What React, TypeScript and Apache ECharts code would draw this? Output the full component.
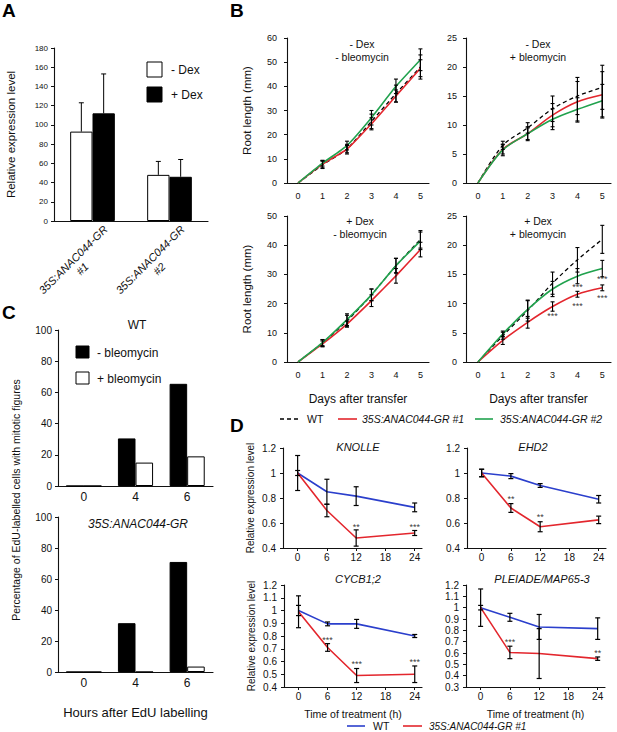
import React, { useEffect, useRef } from 'react';
import * as echarts from 'echarts';

const FONT = '"Liberation Sans", Arial, Helvetica, sans-serif';
const INK = '#111';
const RED = '#e3262d';
const GREEN = '#21a24e';
const BLUE = '#2b3fcc';

// ---------- Panel A ----------
const A_CATEGORIES = ['35S:ANAC044-GR\n#1', '35S:ANAC044-GR\n#2'];
const A_MINUS_DEX = [93, 48];
const A_MINUS_DEX_ERR = [30, 14];
const A_PLUS_DEX = [112, 46];
const A_PLUS_DEX_ERR = [41, 18];

// ---------- Panel B ----------
const B_DAYS = [0, 1, 2, 3, 4, 5];
// - Dex / - bleomycin
const B1_WT = [0, 7.5, 14, 25.5, 37, 48];
const B1_WT_ERR = [0, 1.5, 2, 3, 3.5, 5];
const B1_L1 = [0, 7.8, 14, 24.5, 36, 47.5];
const B1_L1_ERR = [0, 1.5, 1.5, 2.5, 2.5, 3.5];
const B1_L2 = [0, 8.2, 15.5, 27, 40, 51];
const B1_L2_ERR = [0, 1.2, 1.8, 3, 3, 4.5];
// - Dex / + bleomycin
const B2_WT = [0, 6.5, 9.5, 12.8, 15, 16.5];
const B2_WT_ERR = [0, 0.7, 0.9, 2.2, 3.2, 3.8];
const B2_L1 = [0, 5.8, 8.5, 11.7, 14, 15.2];
const B2_L1_ERR = [0, 0.8, 1.0, 2.0, 3.5, 4.0];
const B2_L2 = [0, 5.7, 8.5, 11, 12.7, 14.2];
const B2_L2_ERR = [0, 1.0, 1.2, 1.8, 2.0, 2.8];
// + Dex / - bleomycin
const B3_WT = [0, 6.5, 14, 23, 33, 42];
const B3_WT_ERR = [0, 1.2, 2, 2, 2.5, 3];
const B3_L1 = [0, 6.2, 13, 21, 29.5, 38.5];
const B3_L1_ERR = [0, 1, 1, 2, 2.5, 2.5];
const B3_L2 = [0, 6.6, 14.5, 23, 33, 41.5];
const B3_L2_ERR = [0, 1, 2, 2, 2.5, 3];
// + Dex / + bleomycin
const B4_WT = [0, 4.5, 8.8, 13.5, 17.5, 21];
const B4_WT_ERR = [0, 0.6, 1.8, 1.9, 2.1, 2.4];
const B4_L1 = [0, 3.7, 6.8, 9.5, 11.6, 12.7];
const B4_L1_ERR = [0, 0.7, 1.0, 0.8, 0.5, 0.5];
const B4_L2 = [0, 4.8, 9, 12.5, 14.7, 16];
const B4_L2_ERR = [0, 0.5, 1.5, 1.3, 1.3, 1.4];
const B4_STARS: [number, number, string][] = [[3, 7.8, '***'], [4, 12.9, '***'], [4, 9.6, '***'], [5, 14.2, '***'], [5, 11, '***']];

// ---------- Panel C ----------
const C_HOURS = ['0', '4', '6'];
const C_WT_MINUS_BLEO = [0, 30.5, 65.5];
const C_WT_PLUS_BLEO = [0, 15, 19];
const C_GR_MINUS_BLEO = [0, 31.5, 71];
const C_GR_PLUS_BLEO = [0, 0, 3.5];

// ---------- Panel D ----------
const D_HOURS = [0, 6, 12, 24];
const D_TICKS = [0, 6, 12, 18, 24];
const KNOLLE_WT = [1.0, 0.85, 0.815, 0.725];
const KNOLLE_WT_ERR = [0.14, 0.1, 0.075, 0.035];
const KNOLLE_GR = [1.0, 0.7, 0.48, 0.52];
const KNOLLE_GR_ERR = [0.02, 0.05, 0.065, 0.02];
const KNOLLE_STARS: [number, number, string][] = [[12, 0.565, '**'], [24, 0.57, '***']];
const EHD2_WT = [1.0, 0.975, 0.9, 0.79];
const EHD2_WT_ERR = [0.03, 0.02, 0.015, 0.03];
const EHD2_GR = [1.0, 0.72, 0.57, 0.625];
const EHD2_GR_ERR = [0.03, 0.035, 0.04, 0.03];
const EHD2_STARS: [number, number, string][] = [[6, 0.79, '**'], [12, 0.65, '**']];
const CYCB_WT = [1.0, 0.895, 0.895, 0.8];
const CYCB_WT_ERR = [0.04, 0.015, 0.035, 0.012];
const CYCB_GR = [0.99, 0.71, 0.49, 0.5];
const CYCB_GR_ERR = [0.125, 0.03, 0.055, 0.065];
const CYCB_STARS: [number, number, string][] = [[6, 0.77, '***'], [12, 0.58, '***'], [24, 0.6, '***']];
const PLE_WT = [1.0, 0.915, 0.83, 0.815];
const PLE_WT_ERR = [0.165, 0.035, 0.11, 0.095];
const PLE_GR = [1.0, 0.605, 0.595, 0.55];
const PLE_GR_ERR = [0.02, 0.055, 0.22, 0.015];
const PLE_STARS: [number, number, string][] = [[6, 0.7, '***'], [24, 0.6, '**']];

// ---------- helpers ----------
const pts = (xs: number[], ys: number[]) => xs.map((x, i) => [x, ys[i]]);

function errBars(gi: number, xs: number[], ys: number[], errs: number[], opt: { cap: number; upper?: boolean; offset?: number; lw?: number }) {
  return {
    type: 'custom',
    xAxisIndex: gi,
    yAxisIndex: gi,
    z: 6,
    silent: true,
    data: xs.map((x, i) => [x, ys[i], errs[i]]),
    renderItem: (_p: any, api: any) => {
      const x = api.value(0);
      const y = api.value(1);
      const e = api.value(2);
      if (!e) return null;
      const p0 = api.coord([x, y]);
      const off = opt.offset ? api.size([1, 0])[0] * opt.offset : 0;
      const top = api.coord([x, y + e]);
      const bot = opt.upper ? p0 : api.coord([x, y - e]);
      const cx = p0[0] + off;
      const st = { stroke: '#000', lineWidth: opt.lw ?? 1 };
      const hw = opt.cap;
      const children: any[] = [
        { type: 'line', shape: { x1: cx, y1: top[1], x2: cx, y2: bot[1] }, style: st },
        { type: 'line', shape: { x1: cx - hw, y1: top[1], x2: cx + hw, y2: top[1] }, style: st },
      ];
      if (!opt.upper) children.push({ type: 'line', shape: { x1: cx - hw, y1: bot[1], x2: cx + hw, y2: bot[1] }, style: st });
      return { type: 'group', children };
    },
  };
}

function stars(gi: number, list: [number, number, string][], fontSize: number) {
  return {
    type: 'scatter',
    xAxisIndex: gi,
    yAxisIndex: gi,
    silent: true,
    z: 7,
    symbolSize: 1,
    itemStyle: { color: 'rgba(0,0,0,0)' },
    data: list.map((s) => ({ name: s[2], value: [s[0], s[1]] })),
    label: { show: true, position: 'inside', formatter: '{b}', fontSize, fontFamily: FONT, color: '#000' },
  };
}

function lineSeries(gi: number, name: string, xs: number[], ys: number[], color: string, dashed = false, smooth: number | boolean = false) {
  return {
    type: 'line',
    name,
    xAxisIndex: gi,
    yAxisIndex: gi,
    data: pts(xs, ys),
    symbol: 'none',
    smooth,
    z: dashed ? 3 : 4,
    lineStyle: { color, width: dashed ? 1.3 : 1.6, type: dashed ? [4, 3] : 'solid' },
  };
}

function yAx(gi: number, min: number, max: number, interval: number, fontSize: number, margin: number, extra: any = {}) {
  return {
    type: 'value',
    gridIndex: gi,
    min,
    max,
    interval,
    axisLine: { show: true, onZero: false, lineStyle: { color: INK, width: 1.1 } },
    axisTick: { show: true, length: 3, lineStyle: { color: INK } },
    axisLabel: { fontSize, fontFamily: FONT, color: INK, margin },
    splitLine: { show: false },
    nameTextStyle: { fontFamily: FONT, color: INK },
    ...extra,
  };
}

function bX(gi: number, min: number, extra: any = {}) {
  return {
    type: 'value',
    gridIndex: gi,
    min,
    max: 5.35,
    axisLine: { show: true, onZero: false, lineStyle: { color: INK, width: 1.1 } },
    axisTick: { show: false },
    axisLabel: { customValues: B_DAYS, fontSize: 9, fontFamily: FONT, color: INK, margin: 8 },
    splitLine: { show: false },
    nameTextStyle: { fontFamily: FONT, color: INK, fontSize: 12 },
    ...extra,
  };
}

function dX(gi: number, extra: any = {}) {
  return {
    type: 'value',
    gridIndex: gi,
    min: -3,
    max: 25.5,
    axisLine: { show: true, onZero: false, lineStyle: { color: INK, width: 1.1 } },
    axisTick: { show: true, customValues: D_TICKS, length: 3, lineStyle: { color: INK } },
    axisLabel: { customValues: D_TICKS, fontSize: 10, fontFamily: FONT, color: INK, margin: 4 },
    splitLine: { show: false },
    nameTextStyle: { fontFamily: FONT, color: INK, fontSize: 10.5 },
    ...extra,
  };
}

function cX(gi: number, extra: any = {}) {
  return {
    type: 'category',
    gridIndex: gi,
    data: C_HOURS,
    boundaryGap: true,
    axisLine: { show: true, onZero: false, lineStyle: { color: INK, width: 1.1 } },
    axisTick: { show: false },
    axisLabel: { fontSize: 12, fontFamily: FONT, color: INK, margin: 5 },
    nameTextStyle: { fontFamily: FONT, color: INK, fontSize: 13 },
    ...extra,
  };
}

function txt(x: number, y: number, text: string, fontSize: number, o: any = {}) {
  return {
    type: 'text',
    x,
    y,
    rotation: o.rotation ?? 0,
    style: {
      text,
      fontSize,
      fontFamily: FONT,
      fontWeight: o.bold ? 'bold' : 'normal',
      fontStyle: o.italic ? 'italic' : 'normal',
      fill: o.color ?? INK,
      align: o.align ?? 'left',
      verticalAlign: o.va ?? 'middle',
    },
  };
}

function hline(x1: number, x2: number, y: number, color: string, dashed = false) {
  return { type: 'line', shape: { x1, y1: y, x2, y2: y }, style: { stroke: color, lineWidth: dashed ? 1.3 : 1.6, lineDash: dashed ? [4, 3] : null } };
}

function box(x: number, y: number, w: number, h: number, fill: string) {
  return { type: 'rect', shape: { x, y, width: w, height: h }, style: { fill, stroke: '#000', lineWidth: 1 } };
}

function barStyle(fill: string) {
  return { color: fill, borderColor: '#000', borderWidth: 1 };
}

function buildOption(): any {
  const grids = [
    { left: 54, top: 48, width: 154, height: 173 }, // 0 A
    { left: 287, top: 38, width: 142, height: 145 }, // 1 B TL
    { left: 466, top: 38, width: 145, height: 145 }, // 2 B TR
    { left: 287, top: 216, width: 142, height: 146 }, // 3 B BL
    { left: 466, top: 216, width: 145, height: 146 }, // 4 B BR
    { left: 58, top: 330, width: 155, height: 156 }, // 5 C top
    { left: 58, top: 517, width: 155, height: 155 }, // 6 C bottom
    { left: 283, top: 448, width: 139, height: 100 }, // 7 KNOLLE
    { left: 467, top: 448, width: 139, height: 100 }, // 8 EHD2
    { left: 284, top: 585, width: 138, height: 102 }, // 9 CYCB1;2
    { left: 466, top: 585, width: 139, height: 102 }, // 10 PLEIADE
  ];

  const xAxis = [
    {
      type: 'category',
      gridIndex: 0,
      data: A_CATEGORIES,
      boundaryGap: true,
      axisLine: { show: true, onZero: false, lineStyle: { color: INK, width: 1.1 } },
      axisTick: { show: false },
      axisLabel: {
        interval: 0,
        rotate: 45,
        margin: 10,
        align: 'right',
        verticalAlign: 'top',
        formatter: (v: string) => v.split('\n').map((s) => `{g|${s}}`).join('\n'),
        rich: { g: { width: 68, align: 'center', fontSize: 11, fontStyle: 'italic', fontFamily: FONT, color: INK, lineHeight: 13 } },
      },
    },
    bX(1, -0.45),
    bX(2, -0.48),
    bX(3, -0.45, { name: 'Days after transfer', nameLocation: 'middle', nameGap: 31 }),
    bX(4, -0.48, { name: 'Days after transfer', nameLocation: 'middle', nameGap: 31 }),
    cX(5),
    cX(6, { name: 'Hours after EdU labelling', nameLocation: 'middle', nameGap: 34 }),
    dX(7),
    dX(8),
    dX(9, { name: 'Time of treatment (h)', nameLocation: 'middle', nameGap: 21 }),
    dX(10, { name: 'Time of treatment (h)', nameLocation: 'middle', nameGap: 21 }),
  ];

  const yAxis = [
    yAx(0, 0, 180, 20, 8, 6, { name: 'Relative expression level', nameLocation: 'middle', nameGap: 37, nameTextStyle: { fontFamily: FONT, color: INK, fontSize: 11.5 } }),
    yAx(1, 0, 60, 10, 9, 10, { name: 'Root length (mm)', nameLocation: 'middle', nameGap: 34, nameTextStyle: { fontFamily: FONT, color: INK, fontSize: 11.5 } }),
    yAx(2, 0, 25, 5, 9, 9),
    yAx(3, 0, 50, 10, 9, 10, { name: 'Root length (mm)', nameLocation: 'middle', nameGap: 34, nameTextStyle: { fontFamily: FONT, color: INK, fontSize: 11.5 } }),
    yAx(4, 0, 25, 5, 9, 9),
    yAx(5, 0, 100, 20, 10, 6),
    yAx(6, 0, 100, 20, 10, 6),
    yAx(7, 0.4, 1.2, 0.2, 10, 7, { name: 'Relative expression level', nameLocation: 'middle', nameGap: 28, nameTextStyle: { fontFamily: FONT, color: INK, fontSize: 10 } }),
    yAx(8, 0.4, 1.2, 0.2, 10, 7),
    yAx(9, 0.4, 1.2, 0.1, 10, 7, { name: 'Relative expression level', nameLocation: 'middle', nameGap: 28, nameTextStyle: { fontFamily: FONT, color: INK, fontSize: 10 } }),
    yAx(10, 0.3, 1.2, 0.1, 10, 7),
  ];

  const series: any[] = [];

  // A
  series.push({ type: 'bar', name: '- Dex', xAxisIndex: 0, yAxisIndex: 0, data: A_MINUS_DEX, barWidth: '29%', barGap: '0%', itemStyle: barStyle('#fff') });
  series.push({ type: 'bar', name: '+ Dex', xAxisIndex: 0, yAxisIndex: 0, data: A_PLUS_DEX, barWidth: '29%', barGap: '0%', itemStyle: barStyle('#000') });
  series.push(errBars(0, [0, 1], A_MINUS_DEX, A_MINUS_DEX_ERR, { cap: 2.5, upper: true, offset: -0.145 }));
  series.push(errBars(0, [0, 1], A_PLUS_DEX, A_PLUS_DEX_ERR, { cap: 2.5, upper: true, offset: 0.145 }));

  // B
  const bSets = [
    [B1_WT, B1_WT_ERR, B1_L1, B1_L1_ERR, B1_L2, B1_L2_ERR],
    [B2_WT, B2_WT_ERR, B2_L1, B2_L1_ERR, B2_L2, B2_L2_ERR],
    [B3_WT, B3_WT_ERR, B3_L1, B3_L1_ERR, B3_L2, B3_L2_ERR],
    [B4_WT, B4_WT_ERR, B4_L1, B4_L1_ERR, B4_L2, B4_L2_ERR],
  ];
  bSets.forEach((s, k) => {
    const gi = k + 1;
    const sm = k === 0 || k === 2 ? 0.15 : 0.3;
    series.push(lineSeries(gi, 'WT', B_DAYS, s[0], '#000', true, sm));
    series.push(lineSeries(gi, '35S:ANAC044-GR #1', B_DAYS, s[2], RED, false, sm));
    series.push(lineSeries(gi, '35S:ANAC044-GR #2', B_DAYS, s[4], GREEN, false, sm));
    series.push(errBars(gi, B_DAYS, s[0], s[1], { cap: 2, lw: 1.1 }));
    series.push(errBars(gi, B_DAYS, s[2], s[3], { cap: 2, lw: 1.1 }));
    series.push(errBars(gi, B_DAYS, s[4], s[5], { cap: 2, lw: 1.1 }));
  });
  series.push(stars(4, B4_STARS, 9));

  // C
  series.push({ type: 'bar', name: '- bleomycin', xAxisIndex: 5, yAxisIndex: 5, data: C_WT_MINUS_BLEO, barWidth: '34%', barGap: '0%', itemStyle: barStyle('#000') });
  series.push({ type: 'bar', name: '+ bleomycin', xAxisIndex: 5, yAxisIndex: 5, data: C_WT_PLUS_BLEO, barWidth: '34%', barGap: '0%', itemStyle: barStyle('#fff') });
  series.push({ type: 'bar', name: '- bleomycin', xAxisIndex: 6, yAxisIndex: 6, data: C_GR_MINUS_BLEO, barWidth: '34%', barGap: '0%', itemStyle: barStyle('#000') });
  series.push({ type: 'bar', name: '+ bleomycin', xAxisIndex: 6, yAxisIndex: 6, data: C_GR_PLUS_BLEO, barWidth: '34%', barGap: '0%', itemStyle: barStyle('#fff') });

  // D
  const dSets: any[] = [
    [KNOLLE_WT, KNOLLE_WT_ERR, KNOLLE_GR, KNOLLE_GR_ERR, KNOLLE_STARS],
    [EHD2_WT, EHD2_WT_ERR, EHD2_GR, EHD2_GR_ERR, EHD2_STARS],
    [CYCB_WT, CYCB_WT_ERR, CYCB_GR, CYCB_GR_ERR, CYCB_STARS],
    [PLE_WT, PLE_WT_ERR, PLE_GR, PLE_GR_ERR, PLE_STARS],
  ];
  dSets.forEach((s, k) => {
    const gi = k + 7;
    series.push(lineSeries(gi, 'WT', D_HOURS, s[0], BLUE));
    series.push(lineSeries(gi, '35S:ANAC044-GR #1', D_HOURS, s[2], RED));
    series.push(errBars(gi, D_HOURS, s[0], s[1], { cap: 2.5, lw: 1.2 }));
    series.push(errBars(gi, D_HOURS, s[2], s[3], { cap: 2.5, lw: 1.2 }));
    series.push(stars(gi, s[4], 9));
  });

  const graphic: any[] = [
    // panel letters
    txt(2, 1, 'A', 19, { bold: true, va: 'top', color: '#000' }),
    txt(230, 1, 'B', 19, { bold: true, va: 'top', color: '#000' }),
    txt(2, 303, 'C', 19, { bold: true, va: 'top', color: '#000' }),
    txt(230, 416, 'D', 19, { bold: true, va: 'top', color: '#000' }),
    // A legend
    box(147, 62, 15, 15, '#fff'),
    txt(171, 69.5, '- Dex', 12),
    box(147, 87, 15, 15, '#000'),
    txt(171, 94.5, '+ Dex', 12),
    // B subtitles
    txt(362, 44, '- Dex', 10.5, { align: 'center' }),
    txt(362, 57, '- bleomycin', 10.5, { align: 'center' }),
    txt(538, 44, '- Dex', 10.5, { align: 'center' }),
    txt(538, 57, '+ bleomycin', 10.5, { align: 'center' }),
    txt(360, 221, '+ Dex', 10.5, { align: 'center' }),
    txt(360, 233.5, '- bleomycin', 10.5, { align: 'center' }),
    txt(538, 221, '+ Dex', 10.5, { align: 'center' }),
    txt(538, 233.5, '+ bleomycin', 10.5, { align: 'center' }),
    // B legend
    hline(280, 298, 419, '#000', true),
    txt(307, 419, 'WT', 10.5),
    hline(338, 357, 419, RED),
    txt(362, 419, '35S:ANAC044-GR #1', 10.5, { italic: true }),
    hline(475, 493, 419, GREEN),
    txt(500, 419, '35S:ANAC044-GR #2', 10.5, { italic: true }),
    // C
    txt(137, 325, 'WT', 12, { align: 'center' }),
    txt(138, 524, '35S:ANAC044-GR', 12, { align: 'center', italic: true }),
    box(76, 346, 13, 12, '#000'),
    txt(97, 352.5, '- bleomycin', 12),
    box(76, 372, 13, 12, '#fff'),
    txt(97, 378.5, '+ bleomycin', 12),
    txt(16, 500, 'Percentage of EdU-labelled cells with mitotic figures', 10.5, { align: 'center', rotation: Math.PI / 2 }),
    // D titles
    txt(358, 447, 'KNOLLE', 11, { align: 'center', italic: true }),
    txt(533, 447, 'EHD2', 11, { align: 'center', italic: true }),
    txt(358, 579, 'CYCB1;2', 11, { align: 'center', italic: true }),
    txt(542, 579, 'PLEIADE/MAP65-3', 11, { align: 'center', italic: true }),
    // D legend
    hline(347, 365, 726, BLUE),
    txt(373, 726, 'WT', 10.5),
    hline(403, 422, 726, RED),
    txt(429, 726, '35S:ANAC044-GR #1', 10, { italic: true }),
  ];

  return {
    animation: false,
    backgroundColor: '#fff',
    textStyle: { fontFamily: FONT },
    grid: grids.map((g) => ({ ...g, containLabel: false })),
    xAxis,
    yAxis,
    series,
    graphic,
  };
}

export default function App() {
  const ref = useRef<HTMLDivElement>(null);
  useEffect(() => {
    const chart = echarts.init(ref.current as HTMLDivElement, null, { renderer: 'svg' });
    chart.setOption(buildOption());
    return () => chart.dispose();
  }, []);
  return <div ref={ref} style={{ position: 'absolute', left: 0, top: 0, width: 617, height: 732, background: '#fff' }} />;
}
